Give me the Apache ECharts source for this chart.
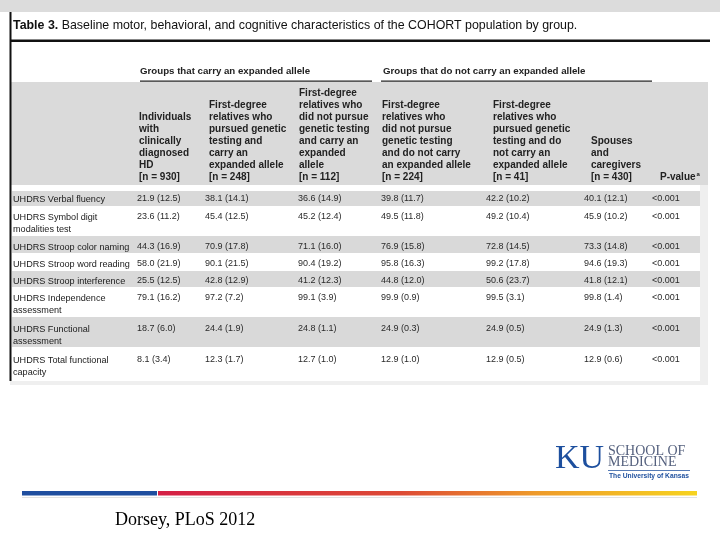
<!DOCTYPE html>
<html>
<head>
<meta charset="utf-8">
<script src="https://cdn.jsdelivr.net/npm/echarts@6/dist/echarts.min.js"></script>
<style>html,body{margin:0;padding:0;background:#fff}#c{width:720px;height:540px}</style>
</head>
<body>
<div id="c"></div>
<script>
// ---------- DATA ----------
const titleText = 'Baseline motor, behavioral, and cognitive characteristics of the COHORT population by group.';
const carryGroupLabel = 'Groups that carry an expanded allele';
const nonCarryGroupLabel = 'Groups that do not carry an expanded allele';
const groupHeaders = [
  'Individuals\nwith\nclinically\ndiagnosed\nHD',
  'First-degree\nrelatives who\npursued genetic\ntesting and\ncarry an\nexpanded allele',
  'First-degree\nrelatives who\ndid not pursue\ngenetic testing\nand carry an\nexpanded\nallele',
  'First-degree\nrelatives who\ndid not pursue\ngenetic testing\nand do not carry\nan expanded allele',
  'First-degree\nrelatives who\npursued genetic\ntesting and do\nnot carry an\nexpanded allele',
  'Spouses\nand\ncaregivers'
];
const groupN = [930, 248, 112, 224, 41, 430];
const measures = [
  'UHDRS Verbal fluency',
  'UHDRS Symbol digit\nmodalities test',
  'UHDRS Stroop color naming',
  'UHDRS Stroop word reading',
  'UHDRS Stroop interference',
  'UHDRS Independence\nassessment',
  'UHDRS Functional\nassessment',
  'UHDRS Total functional\ncapacity'
];
const hdMean = [21.9, 23.6, 44.3, 58.0, 25.5, 79.1, 18.7, 8.1];
const hdSD   = [12.5, 11.2, 16.9, 21.9, 12.5, 16.2, 6.0, 3.4];
const testedCarrierMean = [38.1, 45.4, 70.9, 90.1, 42.8, 97.2, 24.4, 12.3];
const testedCarrierSD   = [14.1, 12.5, 17.8, 21.5, 12.9, 7.2, 1.9, 1.7];
const untestedCarrierMean = [36.6, 45.2, 71.1, 90.4, 41.2, 99.1, 24.8, 12.7];
const untestedCarrierSD   = [14.9, 12.4, 16.0, 19.2, 12.3, 3.9, 1.1, 1.0];
const untestedNonCarrierMean = [39.8, 49.5, 76.9, 95.8, 44.8, 99.9, 24.9, 12.9];
const untestedNonCarrierSD   = [11.7, 11.8, 15.8, 16.3, 12.0, 0.9, 0.3, 1.0];
const testedNonCarrierMean = [42.2, 49.2, 72.8, 99.2, 50.6, 99.5, 24.9, 12.9];
const testedNonCarrierSD   = [10.2, 10.4, 14.5, 17.8, 23.7, 3.1, 0.5, 0.5];
const spouseMean = [40.1, 45.9, 73.3, 94.6, 41.8, 99.8, 24.9, 12.9];
const spouseSD   = [12.1, 10.2, 14.8, 19.3, 12.1, 1.4, 1.3, 0.6];
const pValues = ['<0.001', '<0.001', '<0.001', '<0.001', '<0.001', '<0.001', '<0.001', '<0.001'];
const citation = 'Dorsey, PLoS 2012';

// ---------- LAYOUT (positions in page units, mapped through hidden value axes) ----------
const headerColX = [139, 209, 299, 382, 493, 591];
const pHeaderX = 660;
const bodyColX = [137, 205, 298, 381, 486, 584];
const pBodyX = 652;
const labelX = 13;
const rowTop = [191, 206, 236, 253, 271, 287, 317, 347, 381];
const rowTextY = [199, 217, 247, 264, 281, 298, 329, 360];
const BODY_LEFT = 12, BODY_RIGHT = 700;

const means = [hdMean, testedCarrierMean, untestedCarrierMean, untestedNonCarrierMean, testedNonCarrierMean, spouseMean];
const sds = [hdSD, testedCarrierSD, untestedCarrierSD, untestedNonCarrierSD, testedNonCarrierSD, spouseSD];

// build cells
const cells = [];
measures.forEach((m, r) => {
  cells.push({ value: [labelX, r], text: m, kind: 'label' });
  means.forEach((arr, g) => {
    cells.push({ value: [bodyColX[g], r], text: arr[r].toFixed(1) + ' (' + sds[g][r].toFixed(1) + ')', kind: 'val' });
  });
  cells.push({ value: [pBodyX, r], text: pValues[r], kind: 'val' });
});
const headerCells = groupHeaders.map((h, g) => ({ value: [headerColX[g], 183], text: h + '\n[n = ' + groupN[g] + ']' }));
headerCells.push({ value: [pHeaderX, 183], text: '{t|P-value}{s|a}' });

const FONT = '"Liberation Sans", Arial, sans-serif';

const chart = echarts.init(document.getElementById('c'), null, { renderer: 'canvas' });
chart.setOption({
  animation: false,
  backgroundColor: '#ffffff',
  grid: { left: 0, right: 0, top: 0, bottom: 0 },
  xAxis: { type: 'value', min: 0, max: 720, show: false },
  yAxis: { type: 'value', min: 0, max: 540, inverse: true, show: false },
  graphic: [
    { type: 'rect', z: 0, shape: { x: 0, y: 0, width: 720, height: 12 }, style: { fill: '#dcdcdc' } },
    { type: 'rect', z: 0, shape: { x: 10, y: 82, width: 698, height: 103 }, style: { fill: '#dadada' } },
    { type: 'rect', z: 0, shape: { x: 700, y: 185, width: 8, height: 200 }, style: { fill: '#efefef' } },
    { type: 'rect', z: 0, shape: { x: 10, y: 381, width: 698, height: 4 }, style: { fill: '#efefef' } },
    { type: 'rect', z: 5, shape: { x: 9.5, y: 12, width: 2, height: 369 }, style: { fill: '#111' } },
    { type: 'rect', z: 5, shape: { x: 10, y: 39.5, width: 700, height: 2.5 }, style: { fill: '#111' } },
    { type: 'text', z: 5, x: 13, y: 26, style: {
        text: '{b|Table 3.} ' + titleText, fill: '#111', verticalAlign: 'middle',
        font: '12.4px ' + FONT,
        rich: { b: { fontWeight: 'bold', fontSize: 12.4, fontFamily: FONT, fill: '#111' } } } },
    { type: 'text', z: 5, x: 140, y: 71, style: { text: carryGroupLabel, fill: '#222', verticalAlign: 'middle', font: 'bold 9.7px ' + FONT } },
    { type: 'text', z: 5, x: 383, y: 71, style: { text: nonCarryGroupLabel, fill: '#222', verticalAlign: 'middle', font: 'bold 9.7px ' + FONT } },
    { type: 'rect', z: 5, shape: { x: 140, y: 80.5, width: 232, height: 1.3 }, style: { fill: '#222' } },
    { type: 'rect', z: 5, shape: { x: 381, y: 80.5, width: 271, height: 1.3 }, style: { fill: '#222' } },
    // KU logo
    { type: 'text', z: 5, x: 555, y: 476, style: { text: 'KU', fill: '#1d4f9e', verticalAlign: 'bottom', font: '34px "Liberation Serif", "DejaVu Serif", serif' } },
    { type: 'text', z: 5, x: 608, y: 451, style: { text: 'SCHOOL OF', fill: '#55617e', verticalAlign: 'middle', font: '14px "Liberation Serif", serif' } },
    { type: 'text', z: 5, x: 608, y: 462, style: { text: 'MEDICINE', fill: '#55617e', verticalAlign: 'middle', font: '14px "Liberation Serif", serif' } },
    { type: 'rect', z: 5, shape: { x: 608, y: 470, width: 82, height: 0.8 }, style: { fill: '#1d4f9e' } },
    { type: 'text', z: 5, x: 609, y: 476.5, style: { text: 'The University of Kansas', fill: '#1d4f9e', verticalAlign: 'middle', font: 'bold 6.7px ' + FONT } },
    // bottom bars
    { type: 'rect', z: 5, shape: { x: 22, y: 491, width: 135, height: 4.5 }, style: { fill: '#1f4e9f' } },
    { type: 'rect', z: 5, shape: { x: 158, y: 491, width: 539, height: 4.5 }, style: {
        fill: new echarts.graphic.LinearGradient(0, 0, 1, 0, [
          { offset: 0, color: '#d41f45' }, { offset: 0.45, color: '#dd4a35' }, { offset: 0.7, color: '#ee9a2a' }, { offset: 1, color: '#f6d31f' }]) } },
    { type: 'rect', z: 5, shape: { x: 22, y: 497, width: 675, height: 1 }, style: { fill: '#e2e2e2' } },
    { type: 'text', z: 5, x: 115, y: 520, style: { text: citation, fill: '#000', verticalAlign: 'middle', font: '18px "Liberation Serif", "Times New Roman", serif' } }
  ],
  series: [
    {
      type: 'custom', silent: true, z: 1,
      data: measures.map((m, i) => [i]),
      renderItem: function (params, api) {
        const i = api.value(0);
        const p0 = api.coord([BODY_LEFT, rowTop[i]]);
        const p1 = api.coord([BODY_RIGHT, rowTop[i + 1]]);
        return { type: 'rect', shape: { x: p0[0], y: p0[1], width: p1[0] - p0[0], height: p1[1] - p0[1] },
                 style: { fill: i % 2 === 0 ? '#d9d9d9' : '#ffffff' } };
      }
    },
    {
      type: 'custom', silent: true, z: 3,
      data: cells,
      renderItem: function (params, api) {
        const c = cells[params.dataIndex];
        const r = api.value(1);
        const p = api.coord([api.value(0), rowTextY[r]]);
        return { type: 'text', x: p[0], y: p[1] - 6.25,
                 style: { text: c.text, fill: c.kind === 'label' ? '#1a1a1a' : '#2a2a2a', verticalAlign: 'top', lineHeight: 12.5,
                          font: (c.kind === 'label' ? '9.1px ' : '9px ') + FONT } };
      }
    },
    {
      type: 'custom', silent: true, z: 3,
      data: headerCells,
      renderItem: function (params, api) {
        const c = headerCells[params.dataIndex];
        const p = api.coord([api.value(0), api.value(1)]);
        return { type: 'text', x: p[0], y: p[1],
                 style: { text: c.text, fill: '#222', verticalAlign: 'bottom', lineHeight: 12,
                          font: 'bold 10px ' + FONT,
                          rich: { t: { fontWeight: 'bold', fontSize: 10, fontFamily: FONT, fill: '#222' },
                                  s: { fontWeight: 'bold', fontSize: 6, fontFamily: FONT, fill: '#222', padding: [0, 0, 5, 1] } } } };
      }
    }
  ]
});
</script>
</body>
</html>
